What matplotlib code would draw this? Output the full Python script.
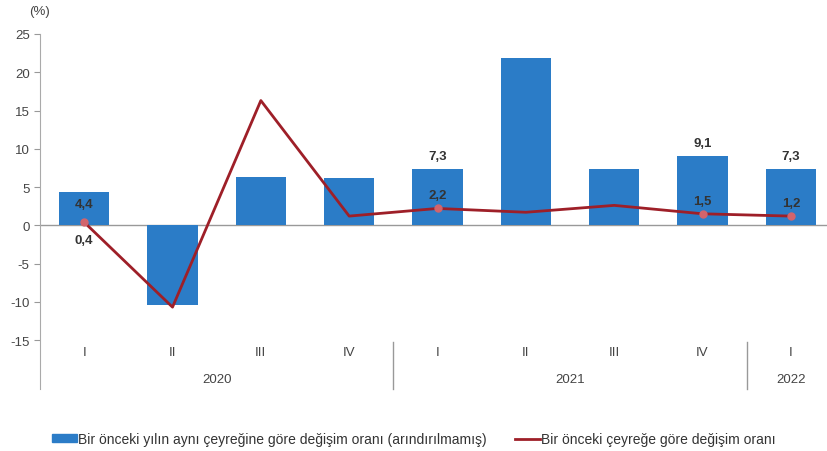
import matplotlib

matplotlib.use("Agg")
import matplotlib.pyplot as plt
from matplotlib.lines import Line2D
from matplotlib.patches import Patch

plt.rcParams["font.family"] = ["Liberation Sans", "DejaVu Sans"]
plt.rcParams["axes.unicode_minus"] = False

quarters = ["I", "II", "III", "IV", "I", "II", "III", "IV", "I"]
years = ["2020", "2021", "2022"]
year_quarters = [4, 4, 1]
yoy = [4.4, -10.4, 6.3, 6.2, 7.3, 21.9, 7.4, 9.1, 7.3]
qoq = [0.4, -10.7, 16.3, 1.2, 2.2, 1.7, 2.6, 1.5, 1.2]
# which points get a value label
bar_labels = {0: "4,4", 4: "7,3", 7: "9,1", 8: "7,3"}
line_labels = {0: "0,4", 4: "2,2", 7: "1,5", 8: "1,2"}

legend_bar = "Bir önceki yılın aynı çeyreğine göre değişim oranı (arındırılmamış)"
legend_line = "Bir önceki çeyreğe göre değişim oranı"

BLUE = "#2b7cc7"
RED = "#9e1f28"
MARK = "#d2646c"
TXT = "#333333"

fig = plt.figure(figsize=(8.28, 4.52), dpi=100)
ax = fig.add_axes([40 / 828, 1 - 390 / 452, 1 - 40 / 828, (390 - 35) / 452])

x = list(range(len(yoy)))
ax.bar(x, yoy, width=0.57, color=BLUE, zorder=2)
ax.plot(x, qoq, color=RED, lw=2, zorder=3)
mx = list(line_labels)
ax.plot(mx, [qoq[i] for i in mx], "o", ms=5, color=MARK, zorder=4)

for i, s in bar_labels.items():
    dy = -1.6 if i == 0 else 1.7
    ax.text(i, yoy[i] + dy, s, ha="center", va="center", fontsize=9.5,
            fontweight="bold", color=TXT, zorder=5)
for i, s in line_labels.items():
    dy = -2.3 if i == 0 else 1.7
    ax.text(i, qoq[i] + dy, s, ha="center", va="center", fontsize=9.5,
            fontweight="bold", color=TXT, zorder=5)

ax.set_xlim(-0.5, 8.42)
ax.set_ylim(-21.4, 25)
ax.set_yticks(range(-15, 26, 5))
ax.tick_params(axis="y", labelsize=9.5, colors="#444444", length=4, color="#999999")
ax.set_xticks([])
for side in ["top", "right", "bottom"]:
    ax.spines[side].set_visible(False)
ax.spines["left"].set_color("#aaaaaa")
ax.axhline(0, color="#999999", lw=1, zorder=1)

# category axis: quarters, years, separators
for i, q in enumerate(quarters):
    ax.text(i, -16.6, q, ha="center", va="center", fontsize=9.5, color="#444444")
start = 0
for yr, n in zip(years, year_quarters):
    ax.text(start + (n - 1) / 2, -20.1, yr, ha="center", va="center",
            fontsize=9.5, color="#444444")
    if start > 0:
        ax.plot([start - 0.5, start - 0.5], [-15.2, -21.4], color="#999999",
                lw=1, clip_on=False)
    start += n

fig.text(40 / 828, 1 - 12 / 452, "(%)", ha="center", va="center", fontsize=9.5,
         color="#444444")

handles = [Patch(color=BLUE), Line2D([0], [0], color=RED, lw=2)]
fig.legend(handles, [legend_bar, legend_line], loc="center",
           bbox_to_anchor=(0.5, 1 - 440 / 452), ncol=2, frameon=False,
           fontsize=10, handlelength=1.8, handleheight=0.5, handletextpad=0.1,
           columnspacing=2.0, labelcolor="#333333")

fig.savefig("out.png", dpi=100)
